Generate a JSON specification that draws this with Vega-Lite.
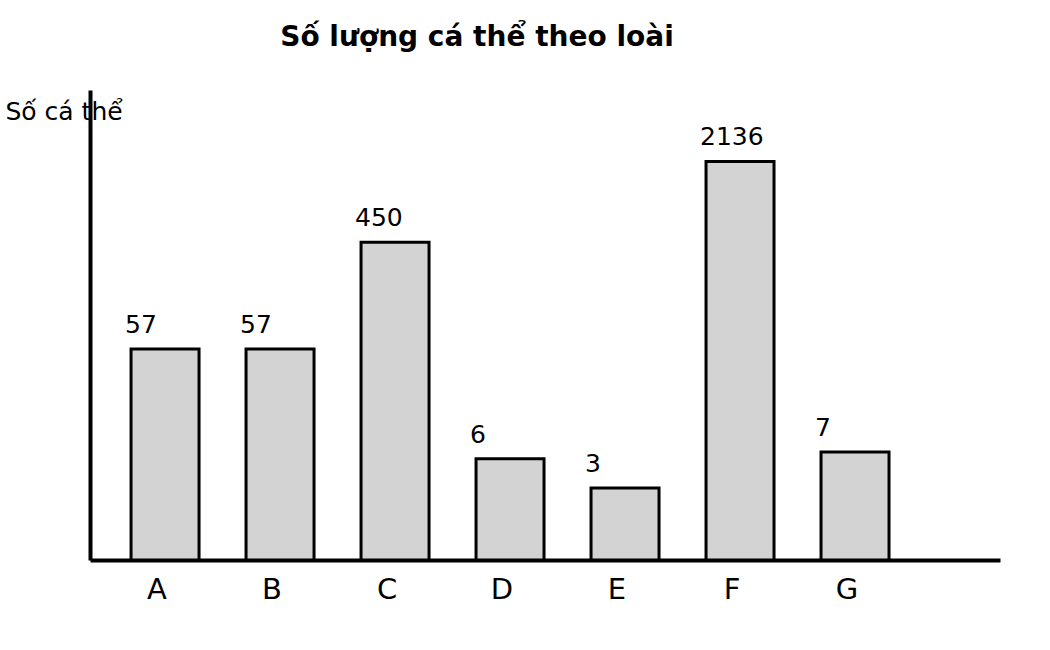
{
  "$schema": "https://vega.github.io/schema/vega-lite/v6.json",
  "width": 910,
  "height": 470,
  "autosize": {"type": "none"},
  "padding": {"left": 90, "top": 90, "right": 50, "bottom": 90},
  "background": "white",
  "config": {
    "font": "DejaVu Sans",
    "view": {"stroke": null}
  },
  "title": {
    "text": "Số lượng cá thể theo loài",
    "font": "DejaVu Sans",
    "fontSize": 28,
    "fontWeight": "bold",
    "anchor": "middle",
    "dx": -68,
    "offset": 38,
    "color": "black"
  },
  "data": {
    "values": [
      {"loai": "A", "so": 57},
      {"loai": "B", "so": 57},
      {"loai": "C", "so": 450},
      {"loai": "D", "so": 6},
      {"loai": "E", "so": 3},
      {"loai": "F", "so": 2136},
      {"loai": "G", "so": 7}
    ]
  },
  "encoding": {
    "x": {
      "field": "loai",
      "type": "nominal",
      "sort": null,
      "scale": {"paddingInner": 0.4087, "paddingOuter": 0.661, "align": 0.27},
      "axis": {
        "title": null,
        "labelAngle": 0,
        "labelFontSize": 29,
        "labelColor": "black",
        "labelOffset": -8,
        "labelPadding": 15,
        "ticks": false,
        "domainColor": "black",
        "domainWidth": 4,
        "labelFont": "DejaVu Sans"
      }
    },
    "y": {
      "field": "so",
      "type": "quantitative",
      "scale": {"type": "symlog", "constant": 1, "domain": [0, 8450], "nice": false},
      "axis": {
        "title": "Số cá thể",
        "titleAngle": 0,
        "titleAlign": "left",
        "titleBaseline": "alphabetic",
        "titleX": -85,
        "titleY": 29,
        "titleFontSize": 25,
        "titleFontWeight": "normal",
        "titleColor": "black",
        "titleFont": "DejaVu Sans",
        "labels": false,
        "ticks": false,
        "grid": false,
        "domainColor": "black",
        "domainWidth": 4
      }
    }
  },
  "layer": [
    {
      "mark": {"type": "bar", "fill": "#d3d3d3", "stroke": "black", "strokeWidth": 3}
    },
    {
      "mark": {"type": "text", "align": "left", "baseline": "alphabetic", "dx": -40, "dy": -16, "fontSize": 25, "color": "black", "font": "DejaVu Sans"},
      "encoding": {"text": {"field": "so", "type": "quantitative"}}
    }
  ]
}
